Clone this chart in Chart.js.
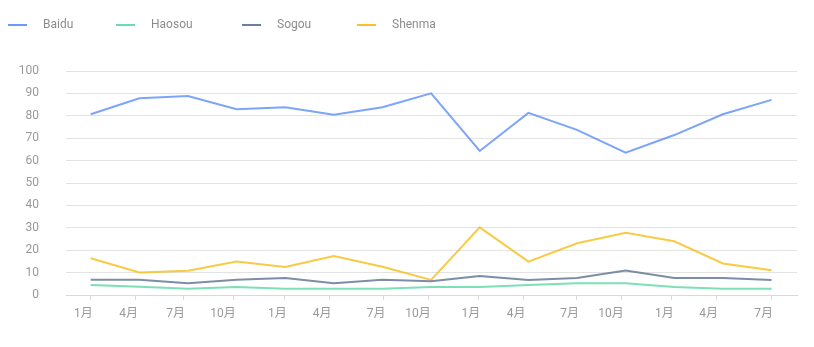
<!DOCTYPE html>
<html>
<head>
<meta charset="utf-8">
<script src="https://cdn.jsdelivr.net/npm/chart.js@4/dist/chart.umd.min.js"></script>
<style>
  html, body { margin: 0; padding: 0; background: #fff; }
  #wrap { width: 814px; height: 347px; position: relative; }
</style>
</head>
<body>
<div id="wrap"><canvas id="c" width="814" height="347"></canvas></div>
<script>
// Quarterly share (%) of search engines, one point per quarter
const seriesNames = ['Baidu', 'Haosou', 'Sogou', 'Shenma'];
const baidu  = [80.7, 87.8, 88.8, 82.9, 83.8, 80.5, 83.8, 90.0, 64.3, 81.3, 73.7, 63.5, 71.4, 80.7, 87.1];
const haosou = [4.5, 3.7, 2.8, 3.6, 2.8, 2.8, 2.8, 3.6, 3.6, 4.5, 5.2, 5.2, 3.6, 2.8, 2.8];
const sogou  = [6.8, 6.8, 5.2, 6.8, 7.6, 5.2, 6.8, 6.1, 8.5, 6.7, 7.6, 10.9, 7.6, 7.6, 6.7];
const shenma = [16.4, 10.1, 10.8, 14.9, 12.5, 17.4, 12.6, 6.7, 30.2, 14.9, 23.1, 27.8, 24.0, 14.1, 11.0];

// Month ticks on the time axis (position in quarters from the first point)
const tickPositions = [0, 0.93, 1.90, 2.94, 3.99, 4.91, 6.02, 6.95, 7.97, 8.90, 10.0, 10.92, 11.95, 12.86, 13.99];
const tickLabels = ['1月', '4月', '7月', '10月', '1月', '4月', '7月', '10月', '1月', '4月', '7月', '10月', '1月', '4月', '7月'];

const colors = ['91, 143, 249', '90, 216, 166', '93, 112, 146', '246, 189, 22'];
const values = [baidu, haosou, sogou, shenma];
const rgba = (c, a) => `rgba(${c}, ${a})`;

const datasets = seriesNames.map((name, i) => ({
  label: name,
  data: values[i].map((v, k) => ({ x: k, y: v })),
  borderColor: rgba(colors[i], 0.8),
  backgroundColor: rgba(colors[i], 0.8),
  borderWidth: 2,
  pointRadius: 0,
  pointHoverRadius: 0,
  tension: 0,
  fill: false
}));

const FONT = 'Roboto, "Noto Sans", "Noto Sans CJK SC", sans-serif';
const AXIS_COLOR = '#999999';
const LEGEND_COLOR = '#8c8c8c';

// Legend row across the top: short line marker + series name
const topLegend = {
  id: 'topLegend',
  afterDraw(chart) {
    const ctx = chart.ctx;
    const starts = [8, 116, 242, 357];
    const y = 25;
    ctx.save();
    ctx.font = '12px ' + FONT;
    ctx.textBaseline = 'middle';
    ctx.textAlign = 'left';
    seriesNames.forEach((name, i) => {
      const x = starts[i];
      ctx.strokeStyle = rgba(colors[i], 0.9);
      ctx.lineWidth = 2;
      ctx.beginPath();
      ctx.moveTo(x, y);
      ctx.lineTo(x + 19, y);
      ctx.stroke();
      ctx.fillStyle = LEGEND_COLOR;
      ctx.fillText(name, x + 35, y);
    });
    ctx.restore();
  }
};

new Chart(document.getElementById('c'), {
  type: 'line',
  data: { datasets },
  plugins: [topLegend],
  options: {
    responsive: false,
    animation: false,
    events: [],
    layout: { padding: { top: 71, right: 17, left: 0, bottom: 0 } },
    plugins: {
      legend: { display: false },
      tooltip: { enabled: false }
    },
    scales: {
      x: {
        type: 'linear',
        min: -0.508,
        max: 14.524,
        afterBuildTicks(scale) {
          scale.ticks = tickPositions.map(v => ({ value: v }));
        },
        afterFit(scale) { scale.height = 52; },
        ticks: {
          autoSkip: false,
          maxRotation: 0,
          minRotation: 0,
          align: 'end',
          labelOffset: 2,
          padding: 7,
          color: AXIS_COLOR,
          font: { family: FONT, size: 12 },
          callback: (v, i) => tickLabels[i]
        },
        grid: {
          drawOnChartArea: false,
          drawTicks: true,
          tickLength: 5,
          color: '#d9d9d9'
        },
        border: { display: true, color: '#d9d9d9', width: 1 }
      },
      y: {
        min: 0,
        max: 100,
        afterFit(scale) { scale.width = 66; },
        ticks: {
          stepSize: 10,
          padding: 27,
          color: AXIS_COLOR,
          font: { family: FONT, size: 12 }
        },
        grid: {
          drawTicks: false,
          color: '#e3e3e3'
        },
        border: { display: false }
      }
    }
  }
});
</script>
</body>
</html>
